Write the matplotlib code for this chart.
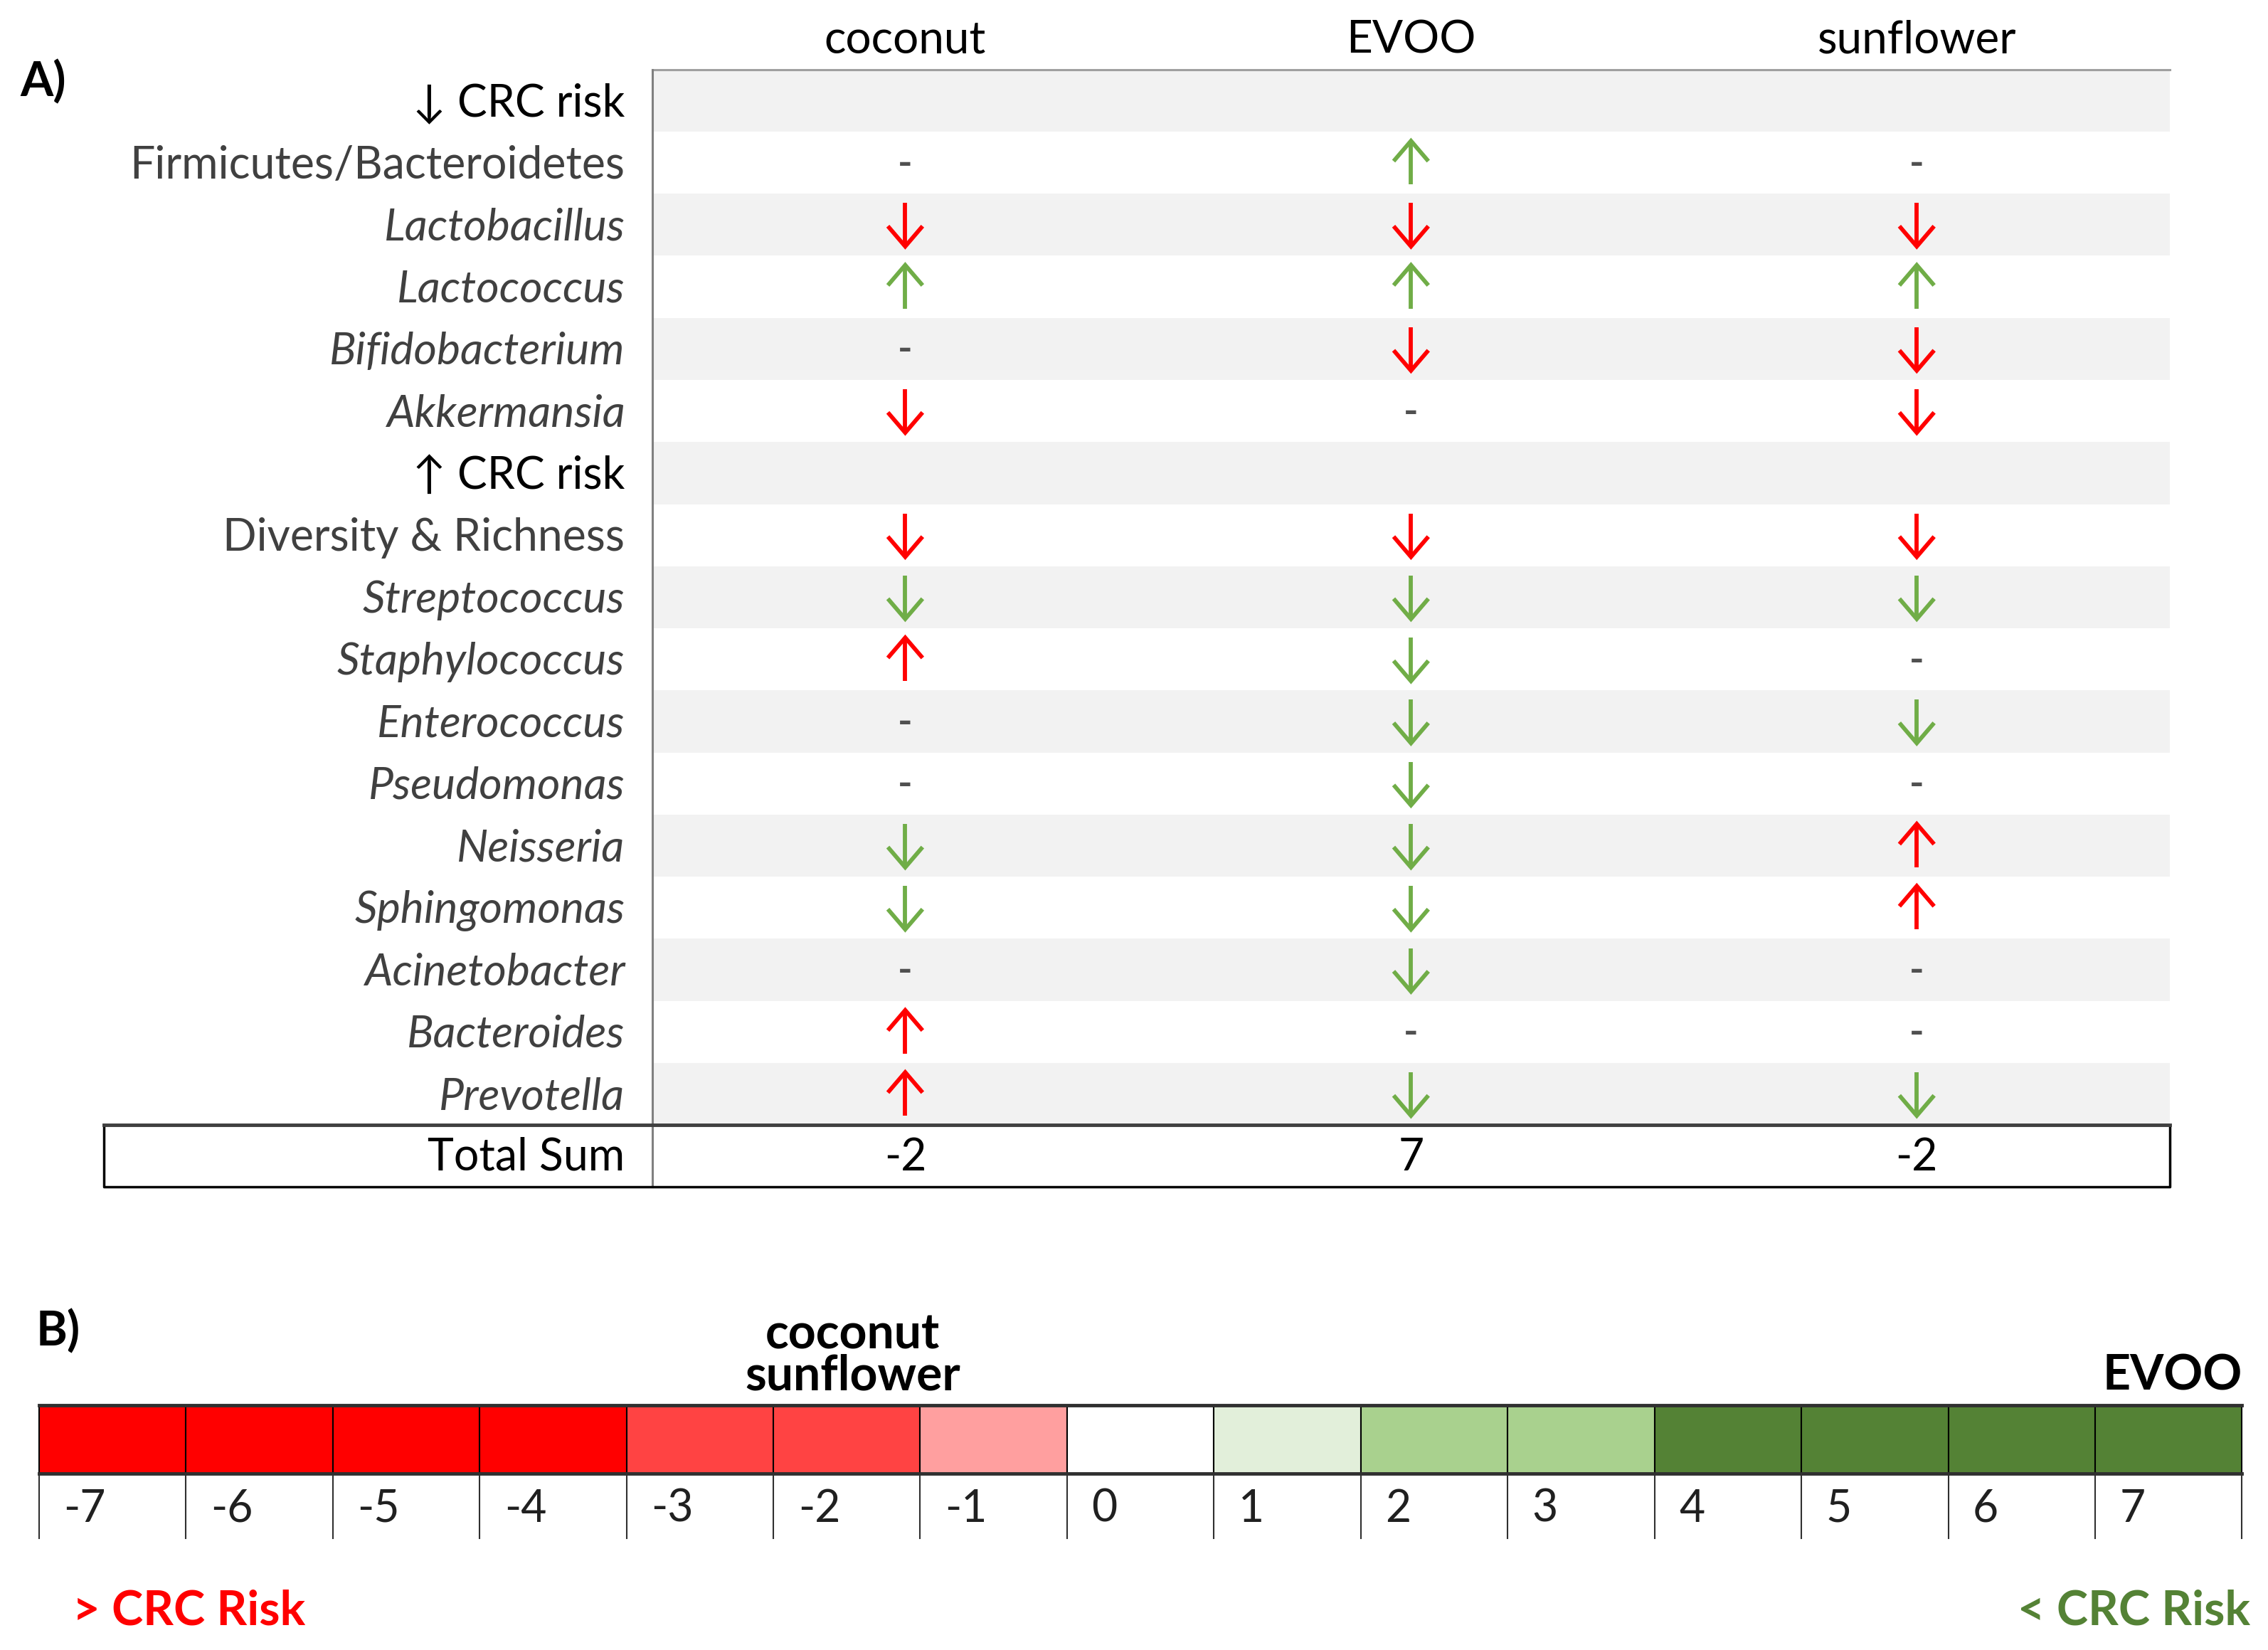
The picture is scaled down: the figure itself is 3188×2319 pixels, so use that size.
import matplotlib.pyplot as plt

# Panel A: effect of each oil on each bacterial marker
rows = ["↓ CRC risk", "Firmicutes/Bacteroidetes", "Lactobacillus", "Lactococcus",
        "Bifidobacterium", "Akkermansia", "↑ CRC risk", "Diversity & Richness",
        "Streptococcus", "Staphylococcus", "Enterococcus", "Pseudomonas", "Neisseria",
        "Sphingomonas", "Acinetobacter", "Bacteroides", "Prevotella"]
section_rows = [0, 6]
upright_rows = [0, 1, 6, 7]
oils = ["coconut", "EVOO", "sunflower"]
# u/d = arrow direction, g = lowers CRC risk (+1), r = raises CRC risk (-1), "-" = no change
coconut = ["", "-", "dr", "ug", "-", "dr", "", "dr", "dg", "ur", "-", "-", "dg", "dg", "-", "ur", "ur"]
evoo = ["", "ug", "dr", "ug", "dr", "-", "", "dr", "dg", "dg", "dg", "dg", "dg", "dg", "dg", "-", "dg"]
sunflower = ["", "-", "dr", "ug", "dr", "dr", "", "dr", "dg", "-", "dg", "-", "ur", "ur", "-", "-", "dg"]
effects = [coconut, evoo, sunflower]

# Panel B: score scale
scale_values = list(range(-7, 8))
scale_colors = ["#FF0000"] * 4 + ["#FF4343"] * 2 + ["#FF9F9F", "#FFFFFF", "#E2EFDA"] + \
               ["#A9D18E"] * 2 + ["#548235"] * 4

RED = "#FF0000"
GREEN = "#70AD47"
DARK_GREEN = "#548235"
TXT = "#404040"
FONT = ["Lato", "DejaVu Sans"]
FS = 45

totals = [sum(1 if c.endswith("g") else -1 if c.endswith("r") else 0 for c in col) for col in effects]

W, H = 1568, 1140
fig = plt.figure(figsize=(31.88, 23.19), dpi=100)
ax = fig.add_axes([0, 0, 1, 1])
ax.set_xlim(0, W)
ax.set_ylim(H, 0)
ax.axis("off")

# table geometry (reference pixel units)
tx0, tx1 = 451, 1500
ty0 = 48
rh = 42.9
cw = (tx1 - tx0) / len(oils)
col_x = [tx0 + cw * (j + 0.5) for j in range(len(oils))]
row_y = [ty0 + rh * (i + 0.5) for i in range(len(rows))]

# alternating shading
for i, y in enumerate(row_y):
    if i % 2 == 0:
        ax.barh(y, tx1 - tx0, height=rh, left=tx0, color="#F2F2F2", zorder=0)

# header
for j, name in enumerate(oils):
    ax.text(col_x[j], 28, name, ha="center", va="center", fontsize=FS + 1, family=FONT, color="black")

# row labels
for i, lab in enumerate(rows):
    style = "normal" if i in upright_rows else "italic"
    color = "black" if i in section_rows else TXT
    ax.text(432, row_y[i] + 2, lab, ha="right", va="center", fontsize=FS, family=FONT,
            style=style, color=color)


def draw_arrow(x, y, up, color):
    half, head_l, head_w = 15, 14, 12
    tip = y - half if up else y + half
    tail = y + half if up else y - half
    back = tip + head_l if up else tip - head_l
    ax.plot([x, x], [tail, tip], color=color, lw=4.2, solid_capstyle="butt", zorder=3)
    ax.plot([x - head_w, x, x + head_w], [back, tip, back], color=color, lw=4.2,
            solid_joinstyle="miter", solid_capstyle="butt", zorder=3)


for j, col in enumerate(effects):
    for i, code in enumerate(col):
        if code == "":
            continue
        if code == "-":
            ax.text(col_x[j], row_y[i] + 1, "-", ha="center", va="center", fontsize=40,
                    family=FONT, weight="bold", color="#505050")
        else:
            draw_arrow(col_x[j], row_y[i], code[0] == "u", GREEN if code[1] == "g" else RED)

# grid lines
ybot = ty0 + rh * len(rows)
ax.plot([tx0, tx1], [ty0, ty0], color="#A0A0A0", lw=2.2)
ax.plot([tx0, tx0], [ty0, ybot + rh], color="#808080", lw=2.2)

# total sum row
ax.plot([72, tx1, tx1, 72, 72], [ybot, ybot, ybot + rh, ybot + rh, ybot], color="black", lw=2.5)
ax.plot([72, tx1], [ybot, ybot], color="#404040", lw=3.5)
ax.text(432, ybot + rh / 2 + 1, "Total Sum", ha="right", va="center", fontsize=FS, family=FONT, color="black")
for j, t in enumerate(totals):
    ax.text(col_x[j], ybot + rh / 2 + 1, str(t), ha="center", va="center", fontsize=FS,
            family=FONT, color="black")

ax.text(14, 57, "A)", ha="left", va="center", fontsize=48, family=FONT, weight="bold")

# panel B: scale
bx0, bx1 = 27, 1550
by0, by1, by2 = 971, 1018, 1063
bw = (bx1 - bx0) / len(scale_values)
bar_x = [bx0 + bw * (k + 0.5) for k in range(len(scale_values))]
ax.bar(bar_x, by1 - by0, width=bw, bottom=by0, color=scale_colors, edgecolor="black", lw=1.5)
ax.plot([bx0, bx1], [by0, by0], color="#303030", lw=3.5)
ax.plot([bx0, bx1], [by1, by1], color="#303030", lw=3.5)
for k, v in enumerate(scale_values):
    xl = bx0 + bw * k
    ax.plot([xl, xl], [by1, by2], color="#303030", lw=1.5)
    ax.text(xl + 17, (by1 + by2) / 2 + 2, str(v), ha="left", va="center", fontsize=FS,
            family=FONT, color="#202020")
ax.plot([bx1, bx1], [by1, by2], color="#303030", lw=1.5)

# oil names above their total score
for t in sorted(set(totals)):
    names = [oils[j] for j in range(len(oils)) if totals[j] == t]
    k = scale_values.index(t)
    if k == len(scale_values) - 1:
        x, ha = bx1, "right"
    elif k == 0:
        x, ha = bx0, "left"
    else:
        x, ha = bar_x[k] + 4, "center"
    ax.text(x, 966, "\n".join(names), ha=ha, va="bottom", fontsize=49, family=FONT,
            weight="bold", linespacing=0.9)

ax.text(25, 920, "B)", ha="left", va="center", fontsize=48, family=FONT, weight="bold")
ax.text(50, 1113, "> CRC Risk", ha="left", va="center", fontsize=48, family=FONT,
        weight="bold", color=RED)
ax.text(1556, 1113, "< CRC Risk", ha="right", va="center", fontsize=48, family=FONT,
        weight="bold", color=DARK_GREEN)

fig.savefig("out.png", dpi=100)
